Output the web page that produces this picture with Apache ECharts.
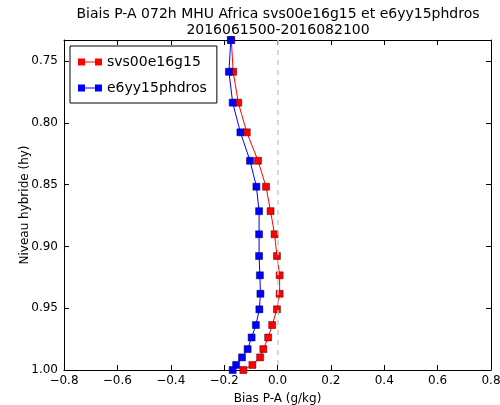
<!DOCTYPE html>
<html>
<head>
<meta charset="utf-8">
<script src="https://cdn.jsdelivr.net/npm/echarts@6/dist/echarts.min.js"></script>
<style>
    html, body { margin: 0; padding: 0; background: #fff; }
    #chart { width: 500px; height: 405px; }
</style>
</head>
<body>
<div id="chart"></div>
<script>
// niveaux hybrides (axe vertical)
var levels = [0.733, 0.7587, 0.7837, 0.8077, 0.8307, 0.8517, 0.8715, 0.8902, 0.9078,
    0.9234, 0.9383, 0.9509, 0.9636, 0.9737, 0.9831, 0.9898, 0.9959, 1.0];
var seriesNames = ['svs00e16g15', 'e6yy15phdros'];
var biasSvs = [-0.173, -0.166, -0.147, -0.115, -0.073, -0.043, -0.026, -0.011, -0.002,
    0.008, 0.008, -0.002, -0.020, -0.035, -0.053, -0.065, -0.094, -0.128];
var biasE6 = [-0.175, -0.182, -0.168, -0.139, -0.103, -0.079, -0.069, -0.069, -0.069,
    -0.066, -0.064, -0.068, -0.081, -0.097, -0.112, -0.133, -0.155, -0.168];
var xTicks = [-0.8, -0.6, -0.4, -0.2, 0.0, 0.2, 0.4, 0.6, 0.8];
var yTicks = [0.75, 0.80, 0.85, 0.90, 0.95, 1.00];

var font = 'DejaVu Sans';

function pairs(xs) {
    var out = [];
    for (var i = 0; i < xs.length; i++) {
        out.push([xs[i], levels[i]]);
    }
    return out;
}

function fmtX(v) {
    var s = Math.abs(v).toFixed(1);
    return v < -1e-9 ? '\u2212' + s : s;
}

var legendIcon = 'path://M0,0h7v7h-7z M17,0h7v7h-7z M7,3h10v1h-10z';

function xAxisDef(pos, show) {
    return {
        type: 'value', position: pos, min: -0.8, max: 0.8, interval: 0.2,
        name: show ? 'Bias P-A (g/kg)' : '', nameLocation: 'middle', nameGap: 23,
        nameTextStyle: {fontFamily: font, fontSize: 12, color: '#000'},
        axisLine: {show: true, onZero: false, lineStyle: {color: '#000', width: 1}},
        axisTick: {show: true, inside: true, length: 5, lineStyle: {color: '#000'}},
        axisLabel: {show: show, fontFamily: font, fontSize: 12, color: '#000', margin: 5, formatter: fmtX},
        splitLine: {show: false}
    };
}

function yAxisDef(pos, show) {
    return {
        type: 'value', position: pos, inverse: true, min: 0.733, max: 1.0,
        name: show ? 'Niveau hybride (hy)' : '', nameLocation: 'middle', nameGap: 33, nameRotate: 90,
        nameMoveOverlap: false,
        nameTextStyle: {fontFamily: font, fontSize: 12, color: '#000'},
        axisLine: {show: true, onZero: false, lineStyle: {color: '#000', width: 1}},
        axisTick: {show: true, inside: true, length: 5, lineStyle: {color: '#000'}, customValues: yTicks},
        axisLabel: {show: show, fontFamily: font, fontSize: 12, color: '#000', margin: 6,
            customValues: yTicks, formatter: function (v) { return v.toFixed(2); }},
        splitLine: {show: false}
    };
}

var chart = echarts.init(document.getElementById('chart'), null, {renderer: 'canvas'});
chart.setOption({
    backgroundColor: '#fff',
    animation: false,
    title: {
        text: 'Biais P-A 072h MHU Africa svs00e16g15 et e6yy15phdros\n2016061500-2016082100',
        left: 273, top: 1, textAlign: 'center',
        textStyle: {fontFamily: font, fontSize: 14, fontWeight: 'normal', color: '#000', lineHeight: 16}
    },
    legend: {
        orient: 'vertical', left: 70, top: 46,
        borderColor: '#000', borderWidth: 1, padding: [9, 10, 8, 8],
        itemWidth: 24, itemHeight: 7, itemGap: 12,
        textStyle: {fontFamily: font, fontSize: 14, color: '#000'},
        itemStyle: {borderWidth: 0},
        data: [
            {name: seriesNames[0], icon: legendIcon},
            {name: seriesNames[1], icon: legendIcon}
        ]
    },
    grid: {left: 64, right: 9, top: 40, bottom: 35, outerBoundsMode: 'none'},
    xAxis: [xAxisDef('bottom', true), xAxisDef('top', false)],
    yAxis: [yAxisDef('left', true), yAxisDef('right', false)],
    series: [
        {
            name: seriesNames[0], type: 'line', xAxisIndex: 0, yAxisIndex: 0,
            data: pairs(biasSvs), symbol: 'rect', symbolSize: 7, clip: true,
            lineStyle: {color: '#ff0000', width: 1},
            itemStyle: {color: '#ff0000', borderColor: '#550000', borderWidth: 0.5},
            markLine: {
                silent: true, symbol: 'none', label: {show: false},
                lineStyle: {color: '#cccccc', type: [5, 5], width: 1.5},
                data: [{xAxis: 0}]
            }
        },
        {
            name: seriesNames[1], type: 'line', xAxisIndex: 0, yAxisIndex: 0,
            data: pairs(biasE6), symbol: 'rect', symbolSize: 7, clip: true,
            lineStyle: {color: '#0000ff', width: 1},
            itemStyle: {color: '#0000ff', borderColor: '#000055', borderWidth: 0.5}
        }
    ]
});
</script>
</body>
</html>
